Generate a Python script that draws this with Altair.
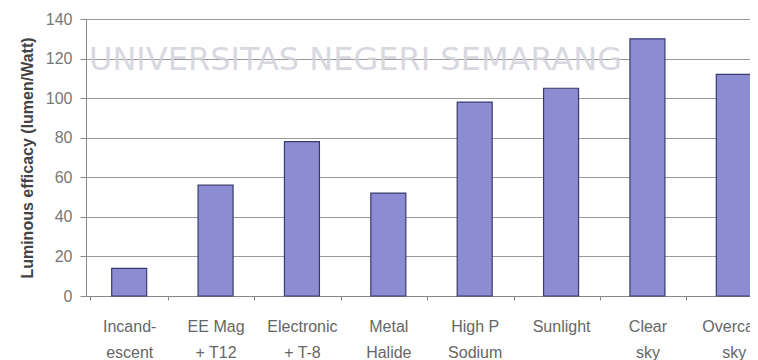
import altair as alt
import pandas as pd

categories = ["Incand-\nescent", "EE Mag\n+ T12", "Electronic\n+ T-8", "Metal\nHalide",
              "High P\nSodium", "Sunlight", "Clear\nsky", "Overcast\nsky"]
values = [14, 56, 78, 52, 98, 105, 130, 112]
y_ticks = [0, 20, 40, 60, 80, 100, 120, 140]
watermark = ["UNIVERSITAS NEGERI SEMARANG"]

df = pd.DataFrame({"cat": categories, "val": values})

bars = alt.Chart(df).mark_bar(
    color="#8c8cd2", stroke="#3a3a70", strokeWidth=1.2, size=35
).encode(
    x=alt.X("cat:N", sort=categories, title=None,
            scale=alt.Scale(range=[0, 691]),
            axis=alt.Axis(labelAngle=0,
                          labelExpr="isString(datum.value) ? split(datum.value, '\\n') : ''",
                          labelFont="Liberation Sans", labelFontSize=16, labelColor="#666",
                          labelPadding=18, labelLineHeight=26, tickBand="extent",
                          domainColor="#888", tickColor="#888", tickSize=4, grid=False)),
    y=alt.Y("val:Q", title="Luminous efficacy (lumen/Watt)",
            scale=alt.Scale(domain=[0, 140], nice=False),
            axis=alt.Axis(values=y_ticks, labelFont="Liberation Sans", labelFontSize=16,
                          labelColor="#777", labelPadding=8, tickSize=6, tickColor="#888",
                          domainColor="#888", gridColor="#999", gridWidth=1,
                          titleFont="Liberation Sans", titleFontSize=16, titleFontWeight="bold",
                          titleColor="#444", titlePadding=10)),
)

wm = alt.Chart(pd.DataFrame({"t": watermark})).mark_text(
    font="DejaVu Sans", fontSize=32, color="#d2d2dc", align="left",
    baseline="middle", opacity=0.85
).encode(text="t:N", x=alt.value(3), y=alt.value(41))

chart = (bars + wm).properties(
    width=664, height=277,
    autosize=alt.AutoSizeParams(type="none"),
    padding={"left": 78, "top": 11, "right": 0, "bottom": 64},
).configure_view(stroke=None)
chart.save("out.html", embed_options={"renderer": "svg", "actions": False})
